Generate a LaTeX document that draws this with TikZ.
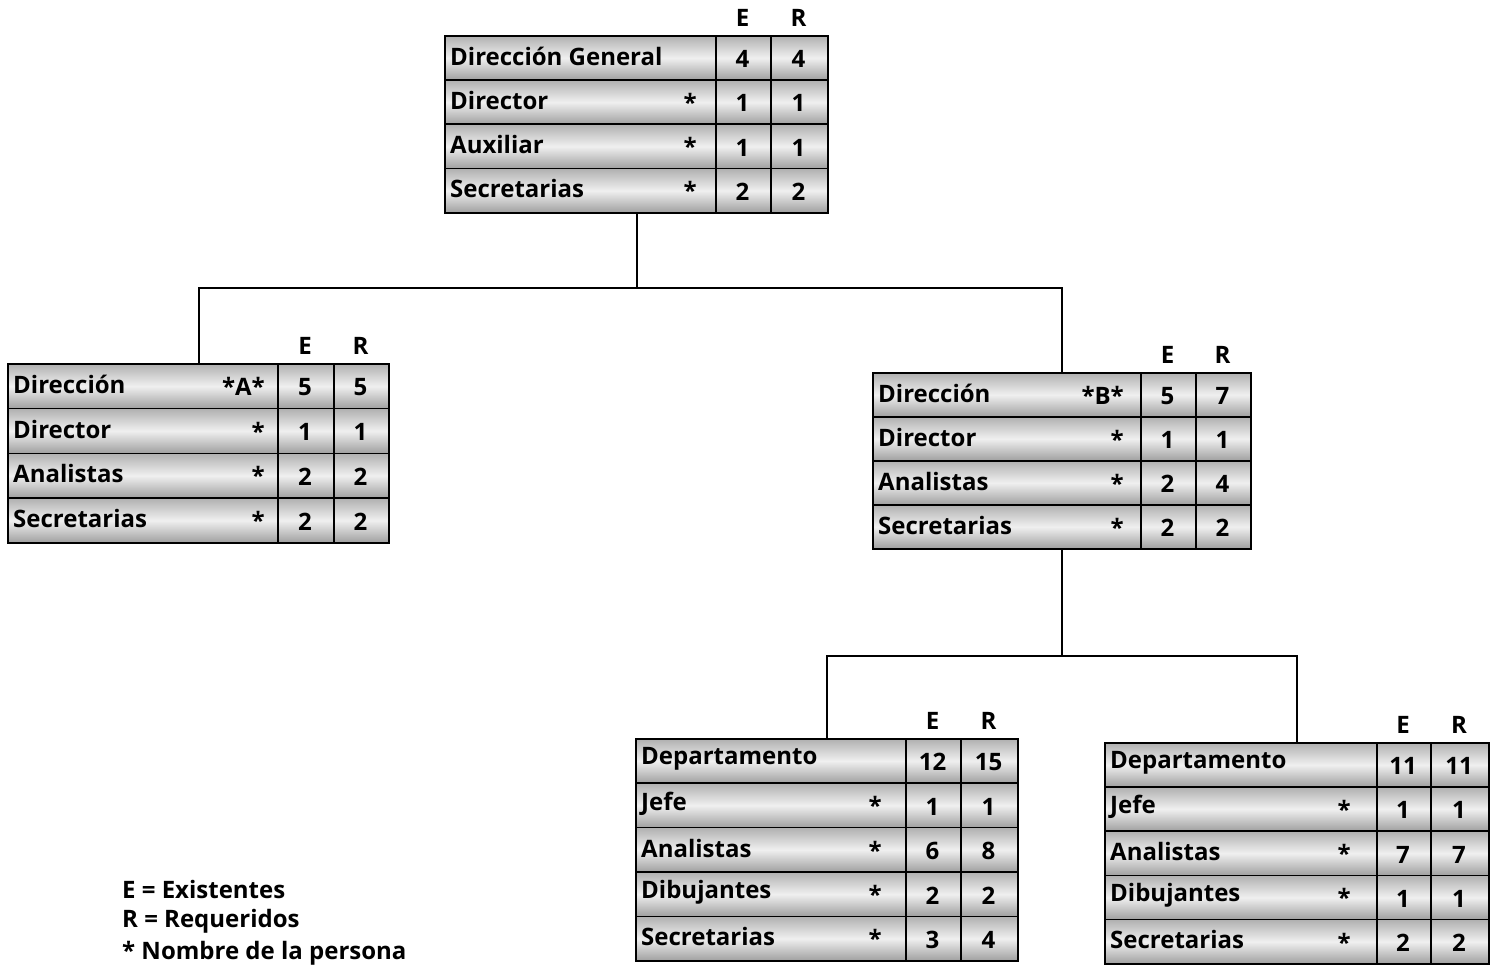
\documentclass[tikz,border=0pt]{standalone}
\usepackage{fontspec}
\setmainfont{Open Sans}
\tikzset{
  cell/.style={draw=black, line width=1.6pt, inner sep=0pt,
    top color=gray!62, bottom color=gray!75, middle color=gray!12},
  txt/.style={font=\fontsize{24}{26}\selectfont\bfseries, inner sep=0pt},
  star/.style={font=\fontsize{24}{26}\selectfont\bfseries, inner sep=0pt},
  num/.style={txt},
  hdr/.style={txt},
  frame/.style={draw=black, line width=2pt, inner sep=0pt},
  link/.style={draw=black, line width=2pt},
  legend/.style={font=\fontsize{24}{26}\selectfont\bfseries, inner sep=0pt, anchor=west}
}
% #1 name, #2 x0, #3 y0, #4 x1, #5 x2, #6 x3, #7 row height, #8 star gap, #9 rows
\newcommand\orgtab[9]{%
  \node[hdr] (#1-hE) at ({(#4+#5)/2},{#3-17}) {E};
  \node[hdr] (#1-hR) at ({(#5+#6)/2},{#3-17}) {R};
  \foreach \lab/\st/\e/\r [count=\i] in {#9} {
    \pgfmathsetmacro\yt{#3+(\i-1)*#7}
    \pgfmathsetmacro\yc{#3+(\i-0.5)*#7}
    \node[cell, anchor=north west, minimum width={#4-#2}, minimum height=#7] (#1-\i-n) at (#2,\yt) {};
    \node[cell, anchor=north west, minimum width={#5-#4}, minimum height=#7] (#1-\i-ec) at (#4,\yt) {};
    \node[cell, anchor=north west, minimum width={#6-#5}, minimum height=#7] (#1-\i-rc) at (#5,\yt) {};
    \node[txt, anchor=west] (#1-\i-l) at ({#2+6},{\yc-1}) {\lab};
    \node[star, anchor=east] (#1-\i-s) at ({#4-#8},{\yc+1}) {\st};
    \node[num] (#1-\i-e) at ({(#4+#5)/2},{\yc+2}) {\e};
    \node[num] (#1-\i-r) at ({(#5+#6)/2},{\yc+2}) {\r};
  }
}
\newcommand\orgframe[6]{% name, x0, y0, x3, y1
  \node[frame, anchor=north west, minimum width={#4-#2}, minimum height={#5-#3}] (#1) at (#2,#3) {};
}
\begin{document}
\begin{tikzpicture}[x=1pt,y=-1pt]
\useasboundingbox[fill=white] (0,0) rectangle (1498,968);

\orgtab{dg}{444}{35}{715}{770}{827}{44.25}{18}{Dirección General//4/4, Director/*/1/1, Auxiliar/*/1/1, Secretarias/*/2/2}
\orgframe{dg}{444}{35}{827}{212}{}

\orgtab{a}{7}{363}{277}{333}{388}{44.75}{12}{Dirección/*A*/5/5, Director/*/1/1, Analistas/*/2/2, Secretarias/*/2/2}
\orgframe{a}{7}{363}{388}{542}{}

\orgtab{b}{872}{372}{1140}{1195}{1250}{44}{16}{Dirección/*B*/5/7, Director/*/1/1, Analistas/*/2/4, Secretarias/*/2/2}
\orgframe{b}{872}{372}{1250}{548}{}

\orgtab{c}{635}{738}{905}{960}{1017}{44.4}{23}{Departamento//12/15, Jefe/*/1/1, Analistas/*/6/8, Dibujantes/*/2/2, Secretarias/*/3/4}
\orgframe{c}{635}{738}{1017}{960}{}

\orgtab{d}{1104}{742}{1376}{1430}{1488}{44.2}{25}{Departamento//11/11, Jefe/*/1/1, Analistas/*/7/7, Dibujantes/*/1/1, Secretarias/*/2/2}
\orgframe{d}{1104}{742}{1488}{963}{}

% connectors
\coordinate (j1) at (dg.south |- 0,288);
\coordinate (j2) at (b.south |- 0,656);
\draw[link] (dg.south) -- (j1);
\draw[link] (a.north) |- (j1) -| (b.north);
\draw[link] (b.south) -- (j2);
\draw[link] (c.north) |- (j2) -| (d.north);

% legend
\node[legend] (l1) at (122,889) {E = Existentes};
\node[legend] (l2) at (122,921) {R = Requeridos};
\node[legend] (l3) at (122,953) {* Nombre de la persona};
\end{tikzpicture}
\end{document}
